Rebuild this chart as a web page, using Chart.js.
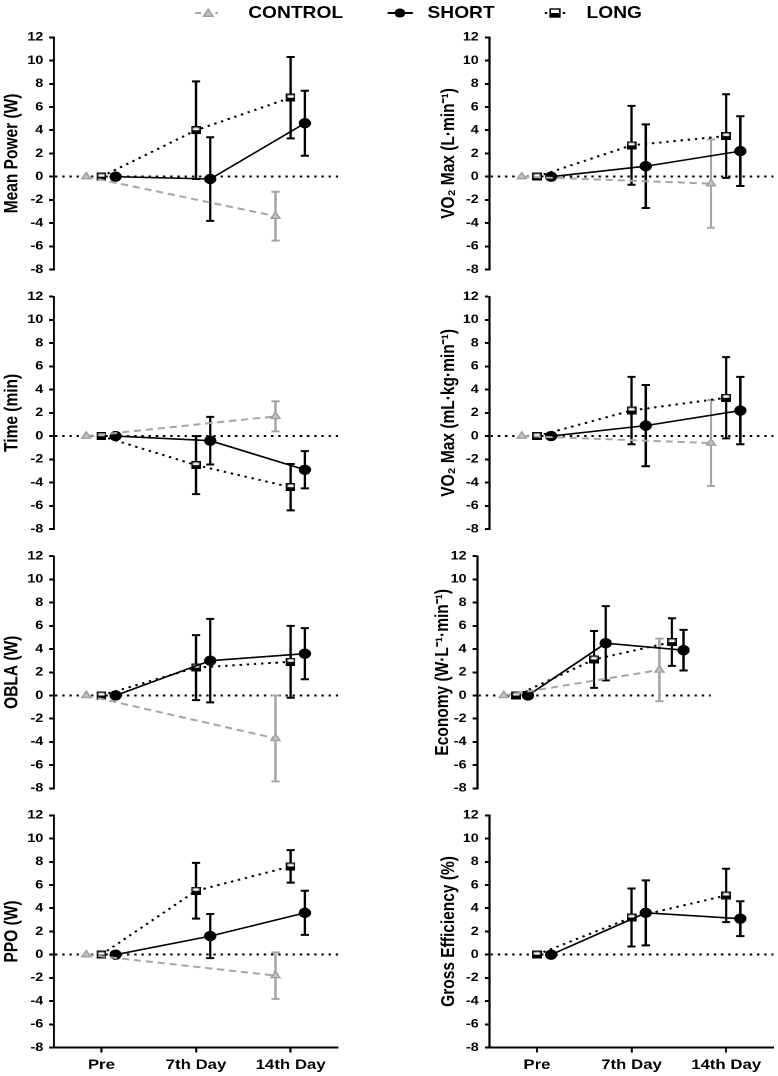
<!DOCTYPE html>
<html>
<head>
<meta charset="utf-8">
<script src="https://cdn.jsdelivr.net/npm/chart.js@4.4.0/dist/chart.umd.min.js"></script>
<style>
  html, body { margin: 0; padding: 0; background: #fff; overflow: hidden; }
  /* the source figure is stretched ~1.2x horizontally, so the whole page is too */
  #page { position: relative; width: 648.4px; height: 1076px; transform: scaleX(1.2); transform-origin: 0 0; }
  #page canvas { position: absolute; }
  #legend { position: absolute; left: 0; top: 0; }
</style>
</head>
<body>
<div id="page">
  <svg id="legend" width="648" height="28" font-family="'Liberation Sans', Arial, sans-serif" font-weight="bold" font-size="16">
    <line x1="162.5" y1="13" x2="167.5" y2="13" stroke="#a6a6a6" stroke-width="2"/>
    <polygon points="173.6,9.3 169.6,16.2 177.6,16.2" fill="#c4c4c4" stroke="#a0a0a0" stroke-width="1.4"/>
    <line x1="179.5" y1="13" x2="181.5" y2="13" stroke="#a6a6a6" stroke-width="2"/>
    <text x="206.9" y="18.5" fill="#000">CONTROL</text>
    <line x1="323" y1="13" x2="344" y2="13" stroke="#000" stroke-width="2"/>
    <circle cx="333.3" cy="13" r="4.5" fill="#000"/>
    <text x="356.3" y="18.5" fill="#000">SHORT</text>
    <line x1="454" y1="13" x2="456" y2="13" stroke="#000" stroke-width="2"/>
    <rect x="458.5" y="9" width="8" height="8" fill="#fff" stroke="#000" stroke-width="1.4"/>
    <rect x="458.5" y="13" width="8" height="4" fill="#000"/>
    <line x1="469" y1="13" x2="471" y2="13" stroke="#000" stroke-width="2"/>
    <text x="488.8" y="18.5" fill="#000">LONG</text>
  </svg>
</div>
<script>
const timepoints = ['Pre', '7th Day', '14th Day'];
const groupNames = ['CONTROL', 'SHORT', 'LONG'];
const yTicks = [-8, -6, -4, -2, 0, 2, 4, 6, 8, 10, 12];

// Mean Power (W)
const powerControl = [0, null, -3.4];
const powerControlSd = [0, null, 2.1];
const powerShort = [0, -0.2, 4.6];
const powerShortSd = [0, 3.6, 2.8];
const powerLong = [0, 4.0, 6.8];
const powerLongSd = [0, 4.2, 3.5];

// Time (min)
const timeControl = [0, null, 1.7];
const timeControlSd = [0, null, 1.3];
const timeShort = [0, -0.4, -2.9];
const timeShortSd = [0, 2.05, 1.6];
const timeLong = [0, -2.5, -4.4];
const timeLongSd = [0, 2.5, 2.0];

// OBLA (W)
const oblaControl = [0, null, -3.7];
const oblaControlSd = [0, null, 3.7];
const oblaShort = [0, 3.0, 3.6];
const oblaShortSd = [0, 3.6, 2.2];
const oblaLong = [0, 2.4, 2.9];
const oblaLongSd = [0, 2.8, 3.1];

// PPO (W)
const ppoControl = [0, null, -1.8];
const ppoControlSd = [0, null, 2.0];
const ppoShort = [0, 1.6, 3.6];
const ppoShortSd = [0, 1.9, 1.9];
const ppoLong = [0, 5.5, 7.6];
const ppoLongSd = [0, 2.4, 1.4];

// VO2 max (L/min)
const vo2AbsControl = [0, null, -0.6];
const vo2AbsControlSd = [0, null, 3.8];
const vo2AbsShort = [0, 0.9, 2.2];
const vo2AbsShortSd = [0, 3.6, 3.0];
const vo2AbsLong = [0, 2.7, 3.5];
const vo2AbsLongSd = [0, 3.4, 3.6];

// VO2 max (mL/kg/min)
const vo2RelControl = [0, null, -0.6];
const vo2RelControlSd = [0, null, 3.7];
const vo2RelShort = [0, 0.9, 2.2];
const vo2RelShortSd = [0, 3.5, 2.9];
const vo2RelLong = [0, 2.2, 3.3];
const vo2RelLongSd = [0, 2.9, 3.5];

// Economy
const econControl = [0, null, 2.2];
const econControlSd = [0, null, 2.7];
const econShort = [0, 4.5, 3.9];
const econShortSd = [0, 3.2, 1.75];
const econLong = [0, 3.1, 4.6];
const econLongSd = [0, 2.45, 2.05];

// Gross efficiency (no control group)
const geControl = [null, null, null];
const geControlSd = [null, null, null];
const geShort = [0, 3.6, 3.1];
const geShortSd = [0, 2.8, 1.5];
const geLong = [0, 3.2, 5.1];
const geLongSd = [0, 2.5, 2.3];

// ---- layout (measured in the stretched picture) ----
const S = 1.2;
const PLOT_H = 232.3;
const rowTops = [37.3, 296.7, 556.0, 815.3];
const LEFT = { plotLeft: 54.4, plotRight: 338.3, titleX: 12.7 };
const RIGHT = { plotLeft: 489.4, plotRight: 773.3, titleX: 449 };
const ECON = { plotLeft: 477.2, plotRight: 710.6, titleX: 443 };

const panels = [
  { title: 'Mean Power (W)', row: 0, box: LEFT, d: [powerControl, powerControlSd, powerShort, powerShortSd, powerLong, powerLongSd] },
  { title: 'Time (min)', row: 1, box: LEFT, d: [timeControl, timeControlSd, timeShort, timeShortSd, timeLong, timeLongSd] },
  { title: 'OBLA (W)', row: 2, box: LEFT, d: [oblaControl, oblaControlSd, oblaShort, oblaShortSd, oblaLong, oblaLongSd] },
  { title: 'PPO (W)', row: 3, box: LEFT, d: [ppoControl, ppoControlSd, ppoShort, ppoShortSd, ppoLong, ppoLongSd] },
  { title: 'VO\u2082 Max (L\u00B7min\u207B\u00B9)', row: 0, box: RIGHT, d: [vo2AbsControl, vo2AbsControlSd, vo2AbsShort, vo2AbsShortSd, vo2AbsLong, vo2AbsLongSd] },
  { title: 'VO\u2082 Max (mL\u00B7kg\u00B7min\u207B\u00B9)', row: 1, box: RIGHT, d: [vo2RelControl, vo2RelControlSd, vo2RelShort, vo2RelShortSd, vo2RelLong, vo2RelLongSd] },
  { title: 'Economy (W\u00B7L\u207B\u00B9\u00B7min\u207B\u00B9)', row: 2, box: ECON, d: [econControl, econControlSd, econShort, econShortSd, econLong, econLongSd] },
  { title: 'Gross Efficiency (%)', row: 3, box: RIGHT, d: [geControl, geControlSd, geShort, geShortSd, geLong, geLongSd] },
];

const FONT = "'Liberation Sans', Arial, sans-serif";

// half-filled square marker for LONG
const halfSquare = document.createElement('canvas');
halfSquare.width = 8;
halfSquare.height = 8;
(function () {
  const c = halfSquare.getContext('2d');
  c.fillStyle = '#fff';
  c.fillRect(0, 0, 8, 8);
  c.fillStyle = '#000';
  c.fillRect(0, 4, 8, 4);
  c.strokeStyle = '#000';
  c.lineWidth = 1.4;
  c.strokeRect(0.7, 0.7, 6.6, 6.6);
})();

const groupStyle = [
  { offset: -0.16, line: '#a6a6a6', bar: '#a6a6a6', dash: [6, 4], width: 2, point: 'triangle', radius: 4.2, fill: '#c4c4c4', edge: '#a0a0a0' },
  { offset: 0.15, line: '#000', bar: '#000', dash: [], width: 1.6, point: 'circle', radius: 4.5, fill: '#000', edge: '#000' },
  { offset: 0, line: '#000', bar: '#000', dash: [2, 4], width: 2, point: halfSquare, radius: 4.5, fill: '#000', edge: '#000' },
];

const errorBars = {
  id: 'errorBars',
  beforeDatasetsDraw(chart) {
    const { ctx, scales: { x, y } } = chart;
    chart.data.datasets.forEach((ds) => {
      ctx.save();
      ctx.strokeStyle = ds.barColor;
      ctx.lineWidth = 2;
      ds.data.forEach((pt) => {
        if (!pt.sd) return;
        const px = x.getPixelForValue(pt.x);
        const top = y.getPixelForValue(pt.y + pt.sd);
        const bot = y.getPixelForValue(pt.y - pt.sd);
        ctx.beginPath();
        ctx.moveTo(px, top);
        ctx.lineTo(px, bot);
        ctx.moveTo(px - 3.4, top);
        ctx.lineTo(px + 3.4, top);
        ctx.moveTo(px - 3.4, bot);
        ctx.lineTo(px + 3.4, bot);
        ctx.stroke();
      });
      ctx.restore();
    });
  }
};

function series(vals, sds, offset) {
  const out = [];
  vals.forEach((v, i) => {
    if (v !== null) out.push({ x: i + offset, y: v, sd: sds[i] });
  });
  return out;
}

const page = document.getElementById('page');

function makePanel(p) {
  const bottomRow = p.row === 3;
  const top = rowTops[p.row];
  const left = p.box.plotLeft / S;
  const right = p.box.plotRight / S;
  const titleCenter = p.box.titleX / S;
  const titleSize = 15.5;
  const canvasLeft = titleCenter - (titleSize * 1.2 / 2 + 1);
  const fitW = left - canvasLeft;
  const canvasTop = Math.floor(top) - 12;
  const padTop = top - canvasTop;
  const xH = bottomRow ? 30 : 0;
  const H = Math.ceil(padTop + PLOT_H + xH + 16);
  const padBottom = H - padTop - PLOT_H - xH;
  const W = Math.ceil(right - canvasLeft + 8);
  const padRight = W - (right - canvasLeft);

  const cv = document.createElement('canvas');
  cv.width = W;
  cv.height = H;
  cv.style.left = canvasLeft + 'px';
  cv.style.top = canvasTop + 'px';
  page.appendChild(cv);

  const datasets = groupNames.map((name, g) => {
    const st = groupStyle[g];
    return {
      label: name,
      data: series(p.d[g * 2], p.d[g * 2 + 1], st.offset),
      borderColor: st.line,
      borderWidth: st.width,
      borderDash: st.dash,
      borderCapStyle: 'butt',
      barColor: st.bar,
      pointStyle: st.point,
      pointRadius: st.radius,
      pointBackgroundColor: st.fill,
      pointBorderColor: st.edge,
      pointBorderWidth: 1.4,
      tension: 0,
      fill: false,
    };
  });

  new Chart(cv, {
    type: 'line',
    data: { datasets },
    plugins: [errorBars],
    options: {
      responsive: false,
      devicePixelRatio: 2,
      animation: false,
      layout: { padding: { top: padTop, bottom: padBottom, left: 0, right: padRight } },
      plugins: { legend: { display: false }, tooltip: { enabled: false } },
      scales: {
        x: {
          type: 'linear',
          min: -0.5,
          max: 2.5,
          display: bottomRow,
          afterBuildTicks: (s) => { s.ticks = timepoints.map((t, i) => ({ value: i })); },
          afterFit: (s) => { s.height = xH; },
          ticks: {
            callback: (v) => timepoints[v],
            font: { family: FONT, size: 14, weight: 'bold' },
            color: '#000',
            padding: 4,
            maxRotation: 0,
            autoSkip: false,
          },
          grid: { drawOnChartArea: false, drawTicks: true, tickLength: 5, tickColor: '#000', tickWidth: 1.7, color: 'transparent' },
          border: { display: true, color: '#000', width: 2 },
        },
        y: {
          min: -8,
          max: 12,
          afterBuildTicks: (s) => { s.ticks = yTicks.map((v) => ({ value: v })); },
          afterFit: (s) => { s.width = fitW; },
          ticks: {
            font: { family: FONT, size: 12, weight: 'bold' },
            color: '#000',
            padding: 5,
            callback: (v) => String(v),
          },
          grid: {
            color: (c) => (c.tick && c.tick.value === 0 ? '#000' : 'transparent'),
            lineWidth: 2,
            tickLength: 4,
            tickColor: '#000',
            tickWidth: 2,
          },
          border: { display: true, color: '#000', width: 1.8, dash: [2, 4] },
          title: {
            display: true,
            text: p.title,
            font: { family: FONT, size: titleSize, weight: 'bold' },
            color: '#000',
            padding: { top: 1, bottom: 0 },
          },
        },
      },
    },
  });
}

panels.forEach(makePanel);
</script>
</body>
</html>
